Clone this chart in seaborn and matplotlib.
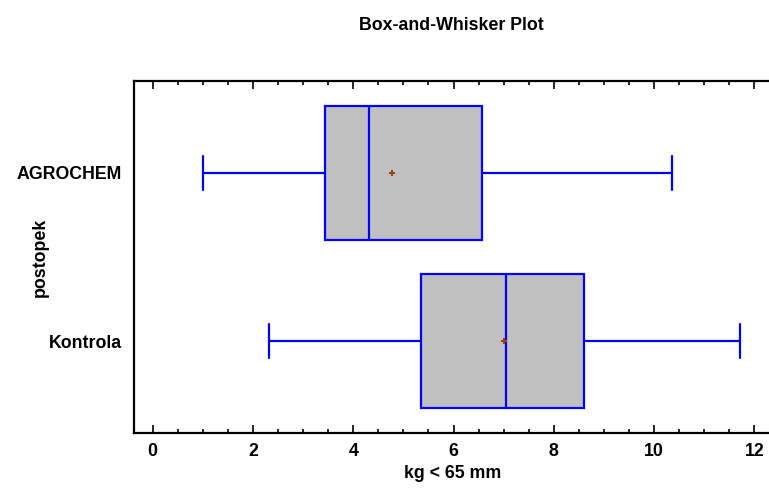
import numpy as np
import pandas as pd
import matplotlib
matplotlib.use("Agg")
import matplotlib.pyplot as plt
from matplotlib.ticker import MultipleLocator
import seaborn as sns

# ---- data ----
groups = ["AGROCHEM", "Kontrola"]
mins = [1.00, 2.32]
q1s = [3.44, 5.36]
medians = [4.31, 7.04]
q3s = [6.57, 8.60]
maxs = [10.36, 11.72]
means = [4.77, 7.01]
x_ticks = [0, 2, 4, 6, 8, 10, 12]

title = "Box-and-Whisker Plot"
x_label = "kg < 65 mm"
y_label = "postopek"

# long-form table of five-number summaries (numpy percentiles of 5 values
# reproduce exactly min/Q1/median/Q3/max)
rows = []
for g, a, b, c, d, e in zip(groups, mins, q1s, medians, q3s, maxs):
    for v in (a, b, c, d, e):
        rows.append({"group": g, "value": v})
df = pd.DataFrame(rows)
df_mean = pd.DataFrame({"group": groups, "value": means})

sns.set_theme(style="white")
plt.rcParams["font.family"] = ["Liberation Sans", "DejaVu Sans"]
plt.rcParams["text.color"] = "black"
plt.rcParams["axes.labelcolor"] = "black"
plt.rcParams["xtick.color"] = "black"
plt.rcParams["ytick.color"] = "black"

FS = 12.8

fig = plt.figure(figsize=(7.69, 4.88), dpi=100)
ax_h = (433 - 81) / 488
ax = fig.add_axes([134 / 769, 1 - 433 / 488, 1 - 134 / 769 + 0.002, ax_h])

blue = "#0000FF"
sns.boxplot(
    data=df, x="value", y="group", order=groups, orient="h",
    whis=(0, 100), width=0.8, color="#C0C0C0", saturation=1,
    linewidth=1.6, linecolor=blue, ax=ax,
    boxprops=dict(facecolor="#C0C0C0", edgecolor=blue),
    whiskerprops=dict(color=blue), capprops=dict(color=blue),
    medianprops=dict(color=blue), showfliers=False,
)

# shorten whisker caps to match the reference (about 0.2 category units)
for ln in ax.lines:
    xd = np.asarray(ln.get_xdata(), dtype=float)
    yd = np.asarray(ln.get_ydata(), dtype=float)
    if len(xd) == 2 and xd[0] == xd[1] and abs(yd[1] - yd[0]) < 0.7:
        c = yd.mean()
        ln.set_ydata([c - 0.1, c + 0.1])

sns.scatterplot(data=df_mean, x="value", y="group", marker="P", s=22,
                color="#A0400A", edgecolor="none", ax=ax, zorder=5)

ax.set_xlim(-0.37, 12.32)
ax.set_ylim(1.546, -0.546)
ax.set_xticks(x_ticks)
ax.xaxis.set_minor_locator(MultipleLocator(0.5))
ax.tick_params(axis="x", which="major", direction="in", length=6, width=1.2,
               top=True, bottom=True, color="black", labelsize=FS, pad=7)
ax.tick_params(axis="x", which="minor", direction="in", length=3, width=1.2,
               top=True, bottom=True, color="black")
ax.tick_params(axis="y", length=0, labelsize=FS, pad=9)
for lab in ax.get_xticklabels() + ax.get_yticklabels():
    lab.set_fontweight("bold")

for side in ["left", "bottom", "top"]:
    ax.spines[side].set_visible(True)
    ax.spines[side].set_color("black")
    ax.spines[side].set_linewidth(1.6)
ax.spines["right"].set_visible(False)

ax.set_xlabel(x_label, fontsize=FS, fontweight="bold", va="center")
ax.xaxis.set_label_coords(0.5, -(473 - 433) / 352)
ax.set_ylabel(y_label, fontsize=FS, fontweight="bold", va="center")
ax.yaxis.set_label_coords((41 - 134) / 635, 0.5)
fig.text((134 + 769) / 2 / 769, 1 - 25 / 488, title, ha="center", va="center",
         fontsize=FS, fontweight="bold")

fig.savefig("out.png", dpi=100)
